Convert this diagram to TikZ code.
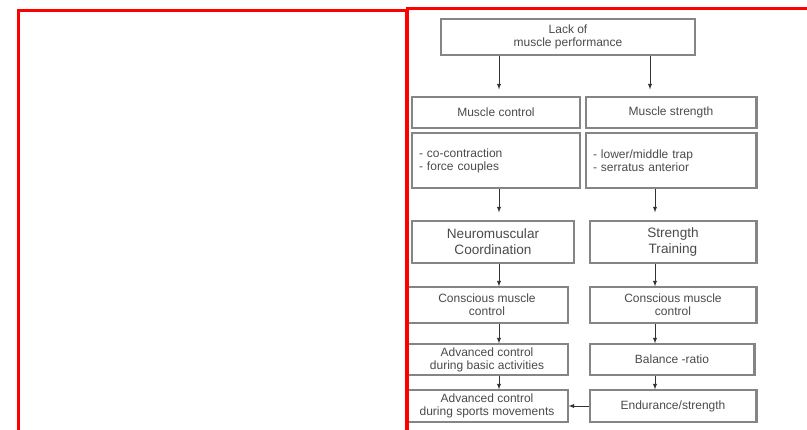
\documentclass[tikz,border=0pt]{standalone}
\usepackage{fontspec}
\setmainfont{Liberation Sans}
\usepackage{tikz}
\usetikzlibrary{shapes, arrows}
\usetikzlibrary{positioning}

\definecolor{boxgray}{HTML}{858585}
\definecolor{textgray}{HTML}{4A4A4A}

\begin{document}
\begin{tikzpicture}[x=1pt, y=-1pt, >=latex,
  box/.style={draw=boxgray, line width=1.2pt, rectangle, align=center, text=textgray, font=\fontsize{12}{13}\selectfont, inner sep=2pt},
  bigbox/.style={box, font=\fontsize{13.6}{16}\selectfont},
  listbox/.style={box, align=left, inner sep=7pt},
  arrow/.style={->, draw=black!80, line width=0.9pt},
  frame/.style={draw=red, line width=3pt}]
\useasboundingbox (0,0) rectangle (807,429);
\clip (0,0) rectangle (807,429);

\node[box, minimum width=254pt, minimum height=36pt] (lack) at (568,37) {Lack of\\muscle performance};
\node[box, minimum width=168pt, minimum height=31pt] (mc) at (496,112.5) {Muscle control};
\node[box, minimum width=170pt, minimum height=31pt] (ms) at (671,112.5) {Muscle strength};
\node[listbox, text width=154pt, minimum height=55pt] (mcl) at (496,160.5) {- co-contraction\\- force couples};
\node[listbox, text width=156pt, minimum height=55pt] (msl) at (671,160.5) {- lower/middle trap\\- serratus anterior};
\node[bigbox, minimum width=162pt, minimum height=42pt] (nc) at (493,242) {Neuromuscular\\Coordination};
\node[bigbox, minimum width=166pt, minimum height=42pt] (st) at (673,242) {Strength\\Training};
\node[box, minimum width=162pt, minimum height=36pt] (ccl) at (487,305) {Conscious muscle\\control};
\node[box, minimum width=166pt, minimum height=36pt] (ccr) at (673,305) {Conscious muscle\\control};
\node[box, minimum width=162pt, minimum height=31pt] (adb) at (487,359.5) {Advanced control\\during basic activities};
\node[box, minimum width=164pt, minimum height=31pt] (bal) at (672,359.5) {Balance -ratio};
\node[box, minimum width=162pt, minimum height=32pt] (ads) at (487,406) {Advanced control\\during sports movements};
\node[box, minimum width=166pt, minimum height=32pt] (endu) at (673,406) {Endurance/strength};

% heavier right edges
\foreach \n in {ms,msl,st,ccr,bal,endu}
  \draw[boxgray, line width=2.2pt] (\n.north east) -- (\n.south east);

\coordinate (lcol) at (499,0);
\coordinate (rtop) at (650,0);
\coordinate (rcol) at (655,0);
\draw[arrow, shorten >=7pt] (lack.south -| lcol) -- (mc.north -| lcol);
\draw[arrow, shorten >=7pt] (lack.south -| rtop) -- (ms.north -| rtop);
\draw[arrow, shorten >=8pt] (mcl.south -| lcol) -- (nc.north -| lcol);
\draw[arrow, shorten >=8pt] (msl.south -| rcol) -- (st.north -| rcol);
\draw[arrow] (nc.south -| lcol) -- (ccl.north -| lcol);
\draw[arrow] (ccl.south -| lcol) -- (adb.north -| lcol);
\draw[arrow] (adb.south -| lcol) -- (ads.north -| lcol);
\draw[arrow] (st.south -| rcol) -- (ccr.north -| rcol);
\draw[arrow] (ccr.south -| rcol) -- (bal.north -| rcol);
\draw[arrow] (bal.south -| rcol) -- (endu.north -| rcol);
\draw[arrow] (endu.west) -- (ads.east);

% red frames
\draw[frame] (18,10) rectangle (406,445);
\draw[frame] (407,8) rectangle (820,445);
\end{tikzpicture}
\end{document}
